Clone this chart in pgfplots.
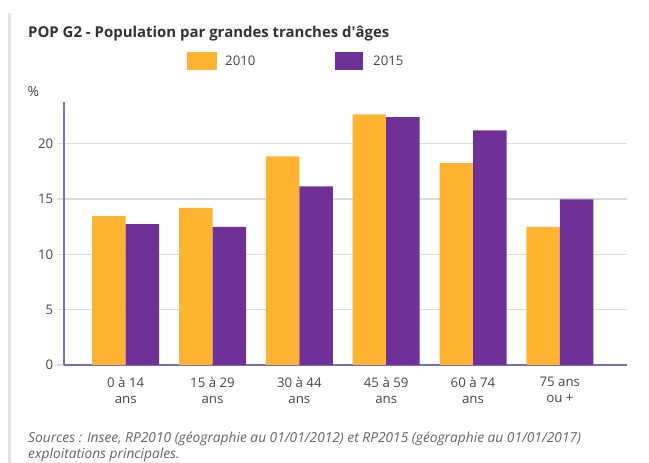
\documentclass[border=0pt]{standalone}
\usepackage{fontspec}
\setmainfont{Open Sans}
\usepackage{pgfplots}
\pgfplotsset{compat=1.18}
\usepackage{pgfplotstable}

\definecolor{c2010}{RGB}{255,179,48}
\definecolor{c2015}{RGB}{111,49,152}
\definecolor{axiscol}{RGB}{120,110,190}
\definecolor{gridcol}{RGB}{220,220,220}
\definecolor{txtcol}{RGB}{70,70,70}
\definecolor{titlecol}{RGB}{51,51,51}
\definecolor{srccol}{RGB}{100,100,100}

% x = index of age group
\pgfplotstableread{
x  v2010  v2015
0  13.45  12.73
1  14.20  12.49
2  18.85  16.14
3  22.65  22.41
4  18.25  21.20
5  12.49  14.96
}\ages

\begin{document}
\begin{tikzpicture}
\useasboundingbox (0,0) rectangle (649bp,463bp);
\draw[gridcol!80, line width=2.5bp] (9.5bp,0) -- (9.5bp,450bp);

\node[anchor=base west, inner sep=0, text=titlecol, font=\fontsize{15}{18}\selectfont\bfseries]
  at (28bp,425.3bp) {POP G2 - Population par grandes tranches d\textquotesingle âges};

% legend
\fill[c2010] (187bp,393bp) rectangle (217bp,411bp);
\node[anchor=base west, inner sep=0, text=txtcol, font=\fontsize{13.3}{15}\selectfont] at (225bp,397.5bp) {2010};
\fill[c2015] (335bp,393bp) rectangle (363bp,411bp);
\node[anchor=base west, inner sep=0, text=txtcol, font=\fontsize{13.3}{15}\selectfont] at (373bp,397.5bp) {2015};

\node[anchor=base west, inner sep=0, text=txtcol, font=\fontsize{14}{16}\selectfont] at (27.3bp,366.3bp) {\%};

\begin{axis}[
  at={(63.7bp,98bp)}, anchor=south west,
  scale only axis,
  width=563bp, height=263.3bp,
  xmin=-0.714, xmax=5.77,
  ymin=0, ymax=23.8,
  ybar=0pt, bar width=0.386,
  axis x line*=bottom, axis y line*=left,
  axis line style={-, draw=axiscol, line width=2bp},
  xtick={0,...,5},
  xticklabels={{0 à 14\\ans},{15 à 29\\ans},{30 à 44\\ans},{45 à 59\\ans},{60 à 74\\ans},{75 ans\\ou +}},
  ytick={0,5,10,15,20},
  tick align=outside,
  major tick length=7bp,
  xtick style={draw=none},
  ytick style={draw=gridcol, line width=1.5bp},
  ymajorgrids=true,
  major grid style={draw=gridcol, line width=1.5bp},
  /pgf/number format/assume math mode=true,
  ticklabel style={text=txtcol, font=\fontsize{13.3}{15.5}\selectfont},
  xticklabel style={align=center, yshift=-2bp},
  clip=false,
]
\addplot[fill=c2010, draw=none, bar shift=-0.193] table[x=x, y=v2010] {\ages};
\addplot[fill=c2015, draw=none, bar shift=0.193] table[x=x, y=v2015] {\ages};
\end{axis}

\node[anchor=base west, inner sep=0, text=srccol, align=left, font=\fontsize{13.8}{16}\selectfont\itshape]
  at (28bp,5bp) {Sources : Insee, RP2010 (géographie au 01/01/2012) et RP2015 (géographie au 01/01/2017)\\exploitations principales.};
\end{tikzpicture}
\end{document}
